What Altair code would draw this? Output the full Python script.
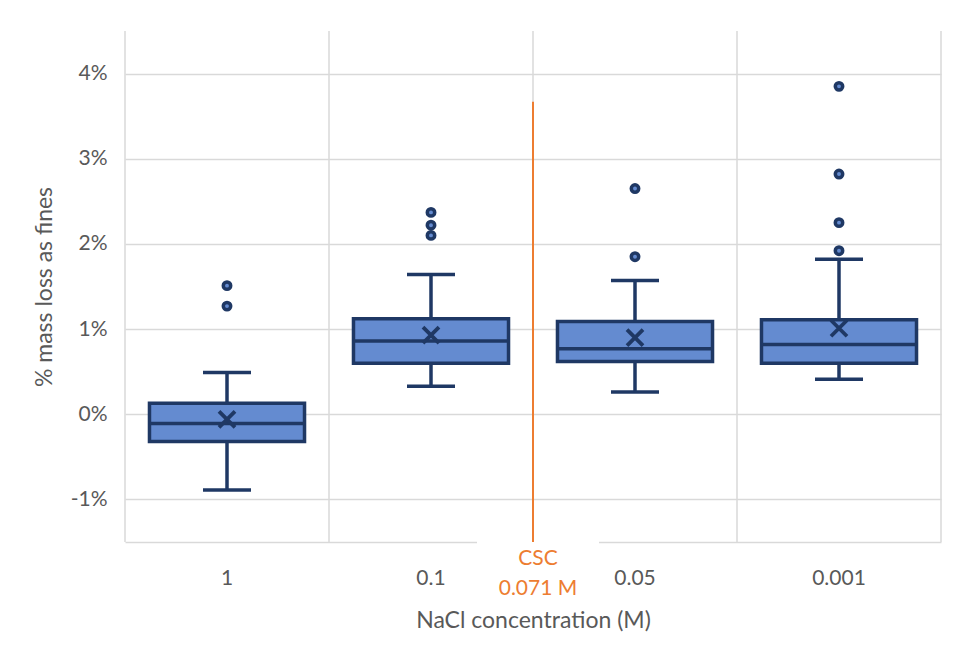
import altair as alt
import pandas as pd

# ---- data (values in %) ----
categories = ["1", "0.1", "0.05", "0.001"]
q1 = [-0.32, 0.60, 0.62, 0.60]
median = [-0.11, 0.86, 0.77, 0.82]
q3 = [0.13, 1.12, 1.09, 1.11]
whisker_low = [-0.89, 0.33, 0.26, 0.41]
whisker_high = [0.49, 1.64, 1.57, 1.82]
mean = [-0.06, 0.93, 0.90, 1.01]
outlier_cat = ["1", "1", "0.1", "0.1", "0.1", "0.05", "0.05",
               "0.001", "0.001", "0.001", "0.001"]
outlier_val = [1.51, 1.27, 2.37, 2.22, 2.10, 2.65, 1.85, 3.85, 2.82, 2.25, 1.92]
y_ticks = [-1, 0, 1, 2, 3, 4]
y_domain = [-1.5, 4.5]
csc_after = "0.1"
csc_top = 3.67
csc_label = ["CSC", "0.071 M"]

# ---- styling ----
PW, PH = 816, 511
BAND = PW / len(categories)
BOX_W = 0.76 * BAND
CAP_W = 48
NAVY = "#1f3864"
FILL = "#648bd0"
ORANGE = "#ED7D31"
GRID = "#d9d9d9"
TXT = "#595959"
FONT = "Lato"
SW = 3.5

stats = pd.DataFrame(dict(cat=categories, q1=q1, median=median, q3=q3,
                          lo=whisker_low, hi=whisker_high, mean=mean))
outl = pd.DataFrame(dict(cat=outlier_cat, v=outlier_val))
edges = pd.DataFrame(dict(cat=categories))
last = pd.DataFrame(dict(cat=[categories[-1]]))
csc = pd.DataFrame(dict(cat=[csc_after], top=[csc_top], bottom=[y_domain[0]],
                        label=["\n".join(csc_label)]))

xscale = alt.Scale(domain=categories, paddingInner=0, paddingOuter=0)
xaxis = alt.Axis(title="NaCl concentration (M)", ticks=False, grid=False,
                 labelAngle=0, labelPadding=25, titlePadding=21,
                 domainColor=GRID, domainWidth=1.5)
yscale = alt.Scale(domain=y_domain, nice=False, zero=False)
yaxis = alt.Axis(title="% mass loss as fines", values=y_ticks, domain=False,
                 ticks=False, grid=True, labelPadding=18, titlePadding=14,
                 labelExpr="(datum.value < 0 ? '-' : '') + abs(datum.value) + '%'")


def X(field="cat:N", **kw):
    return alt.X(field, sort=categories, scale=xscale, axis=xaxis, **kw)


def Y(field, **kw):
    return alt.Y(field, scale=yscale, axis=yaxis, **kw)


vgrid = alt.Chart(edges).mark_rule(color=GRID, strokeWidth=1.5).encode(
    x=X(bandPosition=0))
vgrid_last = alt.Chart(last).mark_rule(color=GRID, strokeWidth=1.5).encode(
    x=X(bandPosition=1))

whisk_up = alt.Chart(stats).mark_rule(color=NAVY, strokeWidth=SW).encode(
    x=X(), y=Y("q3:Q"), y2="hi:Q")
whisk_dn = alt.Chart(stats).mark_rule(color=NAVY, strokeWidth=SW).encode(
    x=X(), y=Y("lo:Q"), y2="q1:Q")
cap_up = alt.Chart(stats).mark_tick(color=NAVY, size=CAP_W, thickness=SW, opacity=1).encode(
    x=X(), y=Y("hi:Q"))
cap_dn = alt.Chart(stats).mark_tick(color=NAVY, size=CAP_W, thickness=SW, opacity=1).encode(
    x=X(), y=Y("lo:Q"))
box = alt.Chart(stats).mark_bar(width={"band": 0.76}, fill=FILL, stroke=NAVY,
                                strokeWidth=SW, opacity=1).encode(
    x=X(), y=Y("q1:Q"), y2="q3:Q")
med = alt.Chart(stats).mark_tick(color=NAVY, size=BOX_W, thickness=SW, opacity=1).encode(
    x=X(), y=Y("median:Q"))
mn = alt.Chart(stats).mark_point(shape="M-1,-1L1,1M-1,1L1,-1", filled=False,
                                 size=256, strokeWidth=3.8, color=NAVY, opacity=1).encode(
    x=X(), y=Y("mean:Q"))
pts = alt.Chart(outl).mark_point(shape="circle", filled=True, fill=FILL, stroke=NAVY,
                                 strokeWidth=3.5, size=55, opacity=1).encode(
    x=X(), y=Y("v:Q"))

# white gap in the axis line behind the CSC label (tick sits at band centre)
gap = alt.Chart(csc).mark_tick(color="white", size=122, thickness=5, opacity=1,
                               xOffset=BAND / 2 + 5).encode(
    x=X(), y=Y("bottom:Q"))
csc_line = alt.Chart(csc).mark_rule(color=ORANGE, strokeWidth=2).encode(
    x=X(bandPosition=1), y=Y("bottom:Q"), y2="top:Q")
csc_text = alt.Chart(csc).mark_text(color=ORANGE, font=FONT, fontSize=21,
                                    align="center", baseline="top", dx=5, dy=6,
                                    lineBreak="\n", lineHeight=30).encode(
    x=X(bandPosition=1), y=Y("bottom:Q"), text="label:N")

chart = alt.layer(vgrid, vgrid_last, whisk_up, whisk_dn, cap_up, cap_dn, box, med,
                  mn, pts, gap, csc_line, csc_text).properties(
    width=PW, height=PH,
    autosize=alt.AutoSizeParams(type="none"),
    padding={"left": 117, "top": 23, "right": 7, "bottom": 90},
    background="white",
).configure_view(stroke=None).configure_axis(
    labelFont=FONT, labelFontSize=21, labelColor=TXT,
    titleFont=FONT, titleFontSize=23, titleColor=TXT, titleFontWeight="normal",
    gridColor=GRID, gridWidth=1.5,
)

chart.save("out.html", embed_options={"renderer": "svg", "actions": False})
